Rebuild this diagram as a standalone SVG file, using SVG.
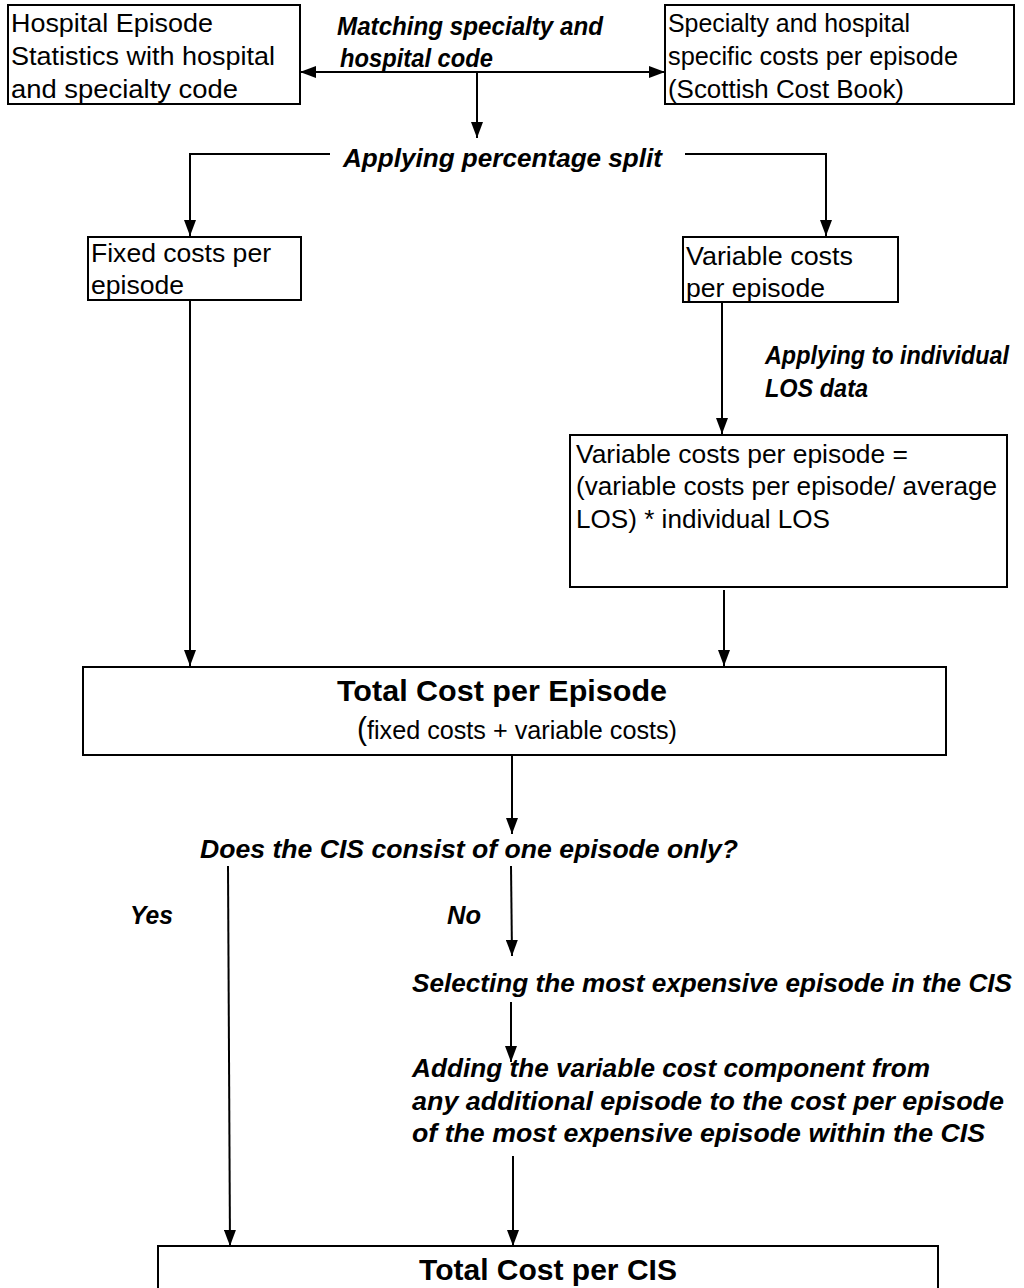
<svg xmlns="http://www.w3.org/2000/svg" width="1024" height="1288" viewBox="0 0 1024 1288">
  <style>
    .box { fill: #fff; stroke: #000; stroke-width: 2; }
    .txt { font-family: "Liberation Sans", Arial, sans-serif; font-size: 26px; fill: #000; }
    .lbl { font-family: "Liberation Sans", Arial, sans-serif; font-size: 25px; font-weight: bold; font-style: italic; fill: #000; }
    .ttl { font-family: "Liberation Sans", Arial, sans-serif; font-size: 30px; font-weight: bold; fill: #000; }
    .ln { fill: none; stroke: #000; stroke-width: 2; }
    .arr { fill: none; stroke: #000; stroke-width: 2; marker-end: url(#ah); }
  </style>
  <defs>
    <marker id="ah" viewBox="0 0 16 12" refX="16" refY="6" markerWidth="16" markerHeight="12" markerUnits="userSpaceOnUse" orient="auto">
      <path d="M0,0 L16,6 L0,12 Z" fill="#000"/>
    </marker>
    <marker id="ahs" viewBox="0 0 16 12" refX="0" refY="6" markerWidth="16" markerHeight="12" markerUnits="userSpaceOnUse" orient="auto">
      <path d="M16,0 L0,6 L16,12 Z" fill="#000"/>
    </marker>
  </defs>

  <!-- connectors -->
  <g id="connectors">
    <line class="ln" x1="300" y1="72" x2="665" y2="72" marker-start="url(#ahs)" marker-end="url(#ah)"/>
    <line class="arr" x1="477" y1="72" x2="477" y2="138"/>
    <polyline class="arr" points="330,154 190,154 190,236"/>
    <polyline class="arr" points="685,154 826,154 826,236"/>
    <line class="arr" x1="190" y1="300" x2="190" y2="666"/>
    <line class="arr" x1="722" y1="302" x2="722" y2="434"/>
    <line class="arr" x1="724" y1="590" x2="724" y2="666"/>
    <line class="arr" x1="512" y1="755" x2="512" y2="834"/>
    <line class="arr" x1="228" y1="866" x2="230" y2="1246"/>
    <line class="arr" x1="511" y1="866" x2="512" y2="956"/>
    <line class="arr" x1="511" y1="1002" x2="511" y2="1062"/>
    <line class="arr" x1="513" y1="1156" x2="513" y2="1246"/>
  </g>

  <!-- source data boxes -->
  <g id="hes">
    <rect class="box" x="8" y="5" width="292" height="99"/>
    <text class="txt" x="11" y="32" textLength="202" lengthAdjust="spacingAndGlyphs">Hospital Episode</text>
    <text class="txt" x="11" y="65" textLength="264" lengthAdjust="spacingAndGlyphs">Statistics with hospital</text>
    <text class="txt" x="11" y="98" textLength="227" lengthAdjust="spacingAndGlyphs">and specialty code</text>
  </g>
  <g id="costbook">
    <rect class="box" x="665" y="5" width="349" height="99"/>
    <text class="txt" x="668" y="32" textLength="242" lengthAdjust="spacingAndGlyphs">Specialty and hospital</text>
    <text class="txt" x="668" y="65" textLength="290" lengthAdjust="spacingAndGlyphs">specific costs per episode</text>
    <text class="txt" x="668" y="98" textLength="236" lengthAdjust="spacingAndGlyphs">(Scottish Cost Book)</text>
  </g>
  <g id="matching">
    <text class="lbl" x="337" y="35" textLength="266" lengthAdjust="spacingAndGlyphs">Matching specialty and</text>
    <text class="lbl" x="340" y="67" textLength="153" lengthAdjust="spacingAndGlyphs">hospital code</text>
  </g>
  <g id="split">
    <text class="lbl" x="343" y="167" textLength="319" lengthAdjust="spacingAndGlyphs">Applying percentage split</text>
  </g>

  <!-- fixed / variable -->
  <g id="fixed">
    <rect class="box" x="88" y="237" width="213" height="63"/>
    <text class="txt" x="91" y="262" textLength="180" lengthAdjust="spacingAndGlyphs">Fixed costs per</text>
    <text class="txt" x="91" y="294" textLength="93" lengthAdjust="spacingAndGlyphs">episode</text>
  </g>
  <g id="variable">
    <rect class="box" x="683" y="237" width="215" height="65"/>
    <text class="txt" x="686" y="265" textLength="167" lengthAdjust="spacingAndGlyphs">Variable costs</text>
    <text class="txt" x="686" y="297" textLength="139" lengthAdjust="spacingAndGlyphs">per episode</text>
  </g>
  <g id="los-label">
    <text class="lbl" x="765" y="364" textLength="244" lengthAdjust="spacingAndGlyphs">Applying to individual</text>
    <text class="lbl" x="765" y="397" textLength="103" lengthAdjust="spacingAndGlyphs">LOS data</text>
  </g>
  <g id="variable-los">
    <rect class="box" x="570" y="435" width="437" height="152"/>
    <text class="txt" x="576" y="463" textLength="332" lengthAdjust="spacingAndGlyphs">Variable costs per episode =</text>
    <text class="txt" x="576" y="495" textLength="421" lengthAdjust="spacingAndGlyphs">(variable costs per episode/ average</text>
    <text class="txt" x="576" y="528" textLength="254" lengthAdjust="spacingAndGlyphs">LOS) * individual LOS</text>
  </g>

  <!-- episode total -->
  <g id="total-episode">
    <rect class="box" x="83" y="667" width="863" height="88"/>
    <text class="ttl" x="337" y="701" textLength="330" lengthAdjust="spacingAndGlyphs">Total Cost per Episode</text>
    <text class="txt" x="357" y="739" textLength="320" lengthAdjust="spacingAndGlyphs"><tspan font-size="31">(</tspan>fixed costs + variable costs)</text>
  </g>

  <!-- CIS decision -->
  <g id="decision">
    <text class="lbl" x="200" y="858" textLength="538" lengthAdjust="spacingAndGlyphs">Does the CIS consist of one episode only?</text>
  </g>
  <g id="yes"><text class="lbl" x="130" y="924" textLength="43" lengthAdjust="spacingAndGlyphs">Yes</text></g>
  <g id="no"><text class="lbl" x="447" y="924" textLength="34" lengthAdjust="spacingAndGlyphs">No</text></g>
  <g id="select">
    <text class="lbl" x="412" y="992" textLength="600" lengthAdjust="spacingAndGlyphs">Selecting the most expensive episode in the CIS</text>
  </g>
  <g id="adding">
    <text class="lbl" x="412" y="1077" textLength="518" lengthAdjust="spacingAndGlyphs">Adding the variable cost component from</text>
    <text class="lbl" x="412" y="1110" textLength="592" lengthAdjust="spacingAndGlyphs">any additional episode to the cost per episode</text>
    <text class="lbl" x="412" y="1142" textLength="573" lengthAdjust="spacingAndGlyphs">of the most expensive episode within the CIS</text>
  </g>

  <!-- CIS total -->
  <g id="total-cis">
    <rect class="box" x="158" y="1246" width="780" height="60"/>
    <text class="ttl" x="548" y="1280" text-anchor="middle">Total Cost per CIS</text>
  </g>
</svg>
